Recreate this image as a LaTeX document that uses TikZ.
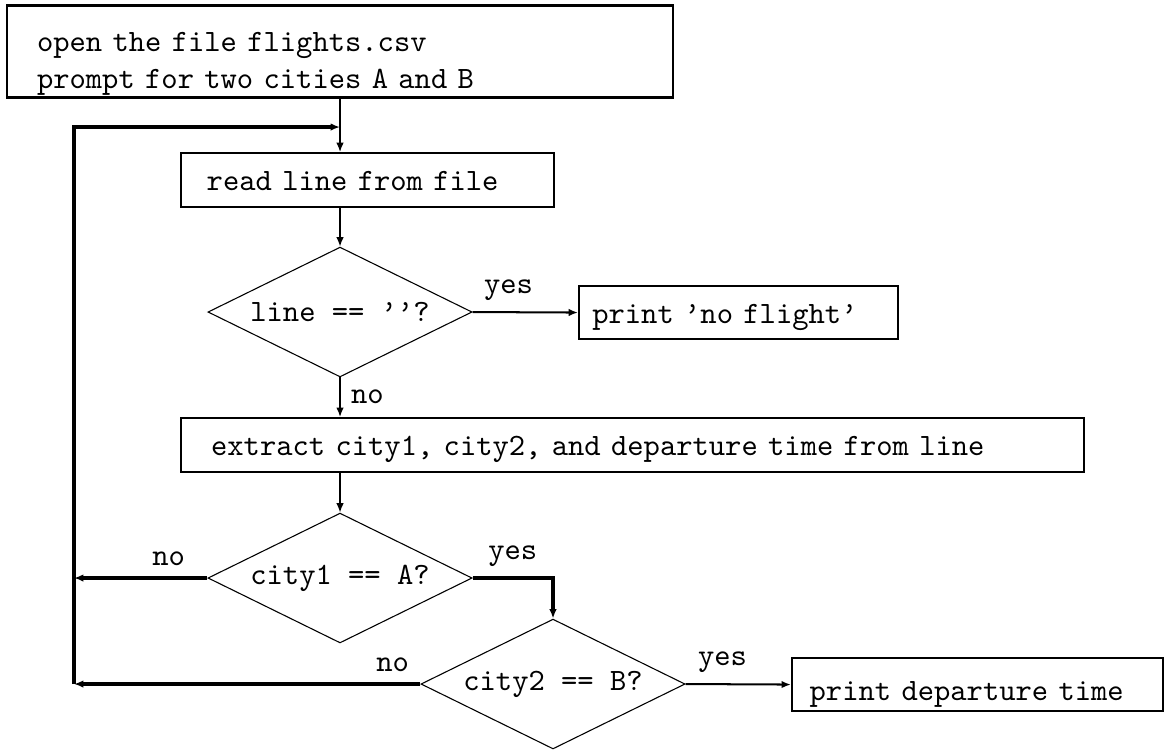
\documentclass[tikz,border=0pt]{standalone}
\usetikzlibrary{arrows.meta,positioning,shapes.geometric}

\begin{document}
\begin{tikzpicture}[
                >={Latex[length=3pt,width=2.4pt]},
                every node/.style={font=\ttfamily},
                box/.style={draw, line width=0.7pt, align=left, inner ysep=0pt},
                block/.style={box, minimum height=0.61cm, text height=7pt, text depth=0pt},
                decision/.style={draw, diamond, aspect=2, line width=0.35pt, minimum width=2.99cm, minimum height=1.47cm, inner sep=0pt},
                flow/.style={->, line width=0.45pt},
                yesline/.style={->, line width=0.65pt},
                loopline/.style={->, line width=1pt}
            ]

            \useasboundingbox (0,0) rectangle (13.21,-8.49);

            \node[box, text width=6.86cm, inner xsep=0.34cm, line width=0.9pt] (input) at (3.849,-0.58) {\rule{0pt}{14.8pt}open the file flights.csv\\prompt for two cities A and B\rule[-2.9pt]{0pt}{0pt}};
            \node[block, text width=3.64cm, inner xsep=0.29cm] (read) at (4.160,-2.038) {read line from file};
            \node[decision] (empty) at (3.849,-3.532) {line == ’’?};
            \node[block, text width=3.31cm, inner xsep=0.15cm, minimum height=0.60cm] (noflight) at (8.360,-3.538) {print ’no flight’};
            \node[block, text width=9.54cm, inner xsep=0.34cm] (extract) at (7.160,-5.037) {extract city1, city2, and departure time from line};
            \node[decision] (cityA) at (3.849,-6.543) {city1 == A?};
            \node[decision] (cityB) at (6.260,-7.743) {city2 == B?};
            \node[block, text width=3.8cm, inner xsep=0.2cm, minimum height=0.60cm, text height=10pt] (depart) at (11.065,-7.749) {print departure time};
            \coordinate (back) at (0.838,-1.438);

            % main line down the chart
            \draw[flow] (input.south) -- (input.south |- read.north);
            \draw[flow] (read.south -| input) -- (empty.north);
            \draw[yesline] (empty.east) -- node[above, pos=0.34] {yes} (noflight.west);
            \draw[flow] (empty.south) -- node[right] {no} (empty.south |- extract.north);
            \draw[flow] (extract.south -| cityA) -- (cityA.north);
            \draw[loopline] (cityA.east) -- node[above] {yes} (cityA.east -| cityB.north) -- (cityB.north);
            \draw[yesline] (cityB.east) -- node[above, pos=0.35] {yes} (depart.west);

            % back to the next line
            \draw[loopline] (cityA.west) -- node[above, pos=0.29] {no} (cityA.west -| back);
            \draw[loopline] (cityB.west) -- node[above, pos=0.08] {no} (cityB.west -| back);
            \draw[loopline] (cityB.west -| back) -- (back) -- (back -| input);

        \end{tikzpicture}
\end{document}
